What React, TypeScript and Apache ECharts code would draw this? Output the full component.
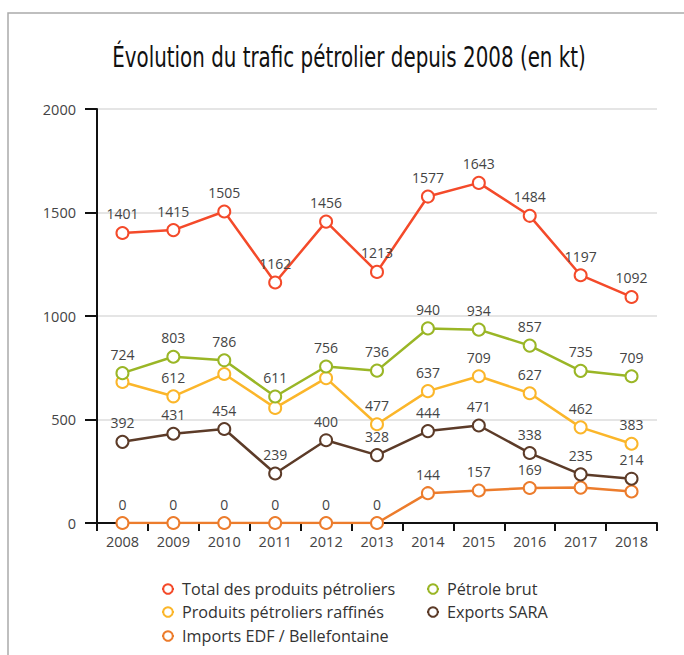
import React, { useEffect, useRef } from "react";
import * as echarts from "echarts";

const years = ["2008", "2009", "2010", "2011", "2012", "2013", "2014", "2015", "2016", "2017", "2018"];
const yTicks = [0, 500, 1000, 1500, 2000];
const totalProduits = [1401, 1415, 1505, 1162, 1456, 1213, 1577, 1643, 1484, 1197, 1092];
const petroleBrut = [724, 803, 786, 611, 756, 736, 940, 934, 857, 735, 709];
const produitsRaffines = [681, 612, 720, 556, 700, 477, 637, 709, 627, 462, 383];
const exportsSara = [392, 431, 454, 239, 400, 328, 444, 471, 338, 235, 214];
const importsEdf = [0, 0, 0, 0, 0, 0, 144, 157, 169, 171, 152];

const seriesNames = [
  "Total des produits pétroliers",
  "Pétrole brut",
  "Produits pétroliers raffinés",
  "Exports SARA",
  "Imports EDF / Bellefontaine",
];
const seriesData = [totalProduits, petroleBrut, produitsRaffines, exportsSara, importsEdf];
// indices of points whose value label is hidden in the original (overlapping labels)
const hiddenLabels = [[], [], [0, 2, 3, 4], [], [9, 10]];
const colors = ["#f44a2a", "#9ab626", "#fbb62a", "#5c3b28", "#ec7c2c"];

const FONT = "'Open Sans', 'Noto Sans', sans-serif";

export default function App() {
  const ref = useRef<HTMLDivElement>(null);
  useEffect(() => {
    if (!ref.current) return;
    const chart = echarts.init(ref.current, null, { renderer: "svg" });
    const legendPos = [
      { left: 161, top: 581 },
      { left: 426, top: 581 },
      { left: 161, top: 604 },
      { left: 426, top: 604 },
      { left: 161, top: 628 },
    ];
    chart.setOption({
      animation: false,
      backgroundColor: "#ffffff",
      graphic: [
        {
          type: "rect",
          shape: { x: 8, y: 13, width: 720, height: 700 },
          style: { fill: "none", stroke: "#aaaaaa", lineWidth: 1.5 },
          silent: true,
          z: -10,
        },
        {
          type: "text",
          x: 349,
          y: 57,
          scaleX: 0.795,
          scaleY: 1.15,
          style: {
            text: "Évolution du trafic pétrolier depuis 2008 (en kt)",
            fontFamily: "'DejaVu Sans', sans-serif",
            fontSize: 25,
            fontWeight: "normal",
            fill: "#111",
            align: "center",
            verticalAlign: "middle",
          },
        },
      ],
      legend: seriesNames.map((n, i) => ({
        data: [n],
        left: legendPos[i].left,
        top: legendPos[i].top,
        itemWidth: 12,
        itemHeight: 12,
        padding: 0,
        textStyle: { fontFamily: FONT, fontSize: 16.2, color: "#333", padding: [0, 0, 0, 3] },
      })),
      grid: { left: 97, right: 27, top: 109, bottom: 132, containLabel: false },
      xAxis: {
        type: "category",
        data: years,
        boundaryGap: true,
        axisLine: { lineStyle: { color: "#111", width: 2 } },
        axisTick: { show: true, length: 8, lineStyle: { color: "#111", width: 2 } },
        axisLabel: { fontFamily: FONT, fontSize: 14.5, color: "#444", margin: 11 },
      },
      yAxis: {
        type: "value",
        min: yTicks[0],
        max: yTicks[yTicks.length - 1],
        interval: yTicks[1] - yTicks[0],
        axisLine: { show: true, lineStyle: { color: "#111", width: 2 } },
        axisTick: { show: true, length: 12, lineStyle: { color: "#111", width: 2 } },
        axisLabel: {
          fontFamily: FONT,
          fontSize: 14.5,
          color: "#444",
          margin: 21,
          formatter: (v: number) => String(v),
        },
        splitLine: { lineStyle: { color: "#dddddd", width: 1.5 } },
      },
      series: seriesNames.map((n, i) => ({
        name: n,
        type: "line",
        data: seriesData[i].map((v, j) =>
          hiddenLabels[i].includes(j) ? { value: v, label: { show: false } } : v
        ),
        symbol: "emptyCircle",
        symbolSize: 12,
        showAllSymbol: true,
        color: colors[i],
        lineStyle: { width: 2.5, color: colors[i] },
        itemStyle: { color: colors[i], borderColor: colors[i], borderWidth: 2.5 },
        label: {
          show: true,
          position: "top",
          distance: 5,
          fontFamily: FONT,
          fontSize: 14,
          color: "#444",
        },
        z: 10 - i,
      })),
    });
    return () => chart.dispose();
  }, []);
  return (
    <div
      ref={ref}
      style={{ position: "absolute", left: 0, top: 0, width: 684, height: 655 }}
    />
  );
}
